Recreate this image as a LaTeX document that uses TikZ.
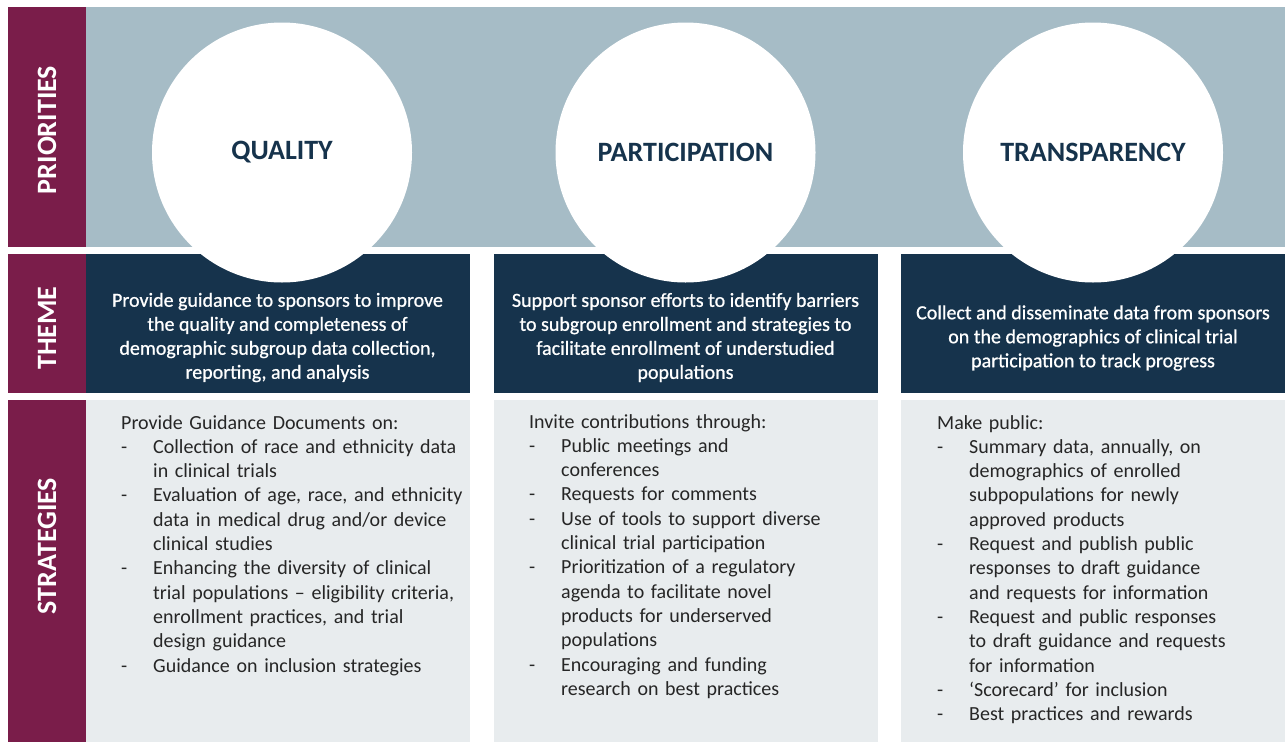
\documentclass[tikz,border=0pt]{standalone}
\usepackage{fontspec}
\setmainfont{Carlito}
\newfontfamily\semibold[FakeBold=0.8]{Carlito}
\definecolor{plum}{HTML}{7A1D4A}
\definecolor{steel}{HTML}{A6BCC6}
\definecolor{navy}{HTML}{16334C}
\definecolor{pale}{HTML}{E8ECEE}
\definecolor{ink}{HTML}{262626}
\newcommand{\dashitem}[1]{\par\hangindent=32pt\hangafter=1\noindent\makebox[32pt][l]{-}#1\par}
\begin{document}
\begin{tikzpicture}[x=1pt,y=-1pt,
  panel/.style={rectangle, draw=none, inner sep=0pt, outer sep=0pt, anchor=north west},
  sidebar/.style={panel, fill=plum, minimum width=78pt},
  prioband/.style={panel, fill=steel},
  themebox/.style={panel, fill=navy, minimum width=383.5pt, minimum height=139pt},
  stratbox/.style={panel, fill=pale, minimum width=383.5pt, minimum height=342pt},
  sidelabel/.style={rotate=90, text=white, font=\fontsize{28}{30}\selectfont\bfseries, inner sep=0pt},
  priocircle/.style={circle, fill=white, minimum size=260pt, inner sep=0pt, text=navy, font=\fontsize{28}{30}\selectfont\bfseries},
  themetext/.style={align=center, text=white, font=\semibold\fontsize{20}{24}\selectfont, inner sep=0pt},
  strattext/.style={anchor=base west, text width=345pt, align=left, text=ink, font=\fontsize{20}{24.3}\selectfont, inner sep=0pt}
]
\path[use as bounding box, fill=white] (0,0) rectangle (1285,742);

% left sidebar
\node[sidebar, minimum height=240pt] (sp) at (8,7) {};
\node[sidebar, minimum height=139pt] (st) at (8,254) {};
\node[sidebar, minimum height=342pt] (ss) at (8,400) {};

% priorities band
\node[prioband, minimum width=1199pt, minimum height=240pt] (pb) at (86,7) {};

% theme boxes
\node[themebox] (t1) at (86,254) {};
\node[themebox] (t2) at (494,254) {};
\node[themebox, minimum width=384pt] (t3) at (901,254) {};

% strategy boxes
\node[stratbox] (s1) at (86,400) {};
\node[stratbox] (s2) at (494,400) {};
\node[stratbox, minimum width=384pt] (s3) at (901,400) {};

% side labels
\node[sidelabel] (lp) at (47,130) {PRIORITIES};
\node[sidelabel] (lt) at (47,328) {THEME};
\node[sidelabel] (ls) at (47,546) {STRATEGIES};

% circles
\node[priocircle] (cq) at (282,152.5) {QUALITY};
\node[priocircle] (cp) at (685.5,152.5) {PARTICIPATION};
\node[priocircle] (ct) at (1093,152.5) {TRANSPARENCY};

% theme texts
\node[themetext] (tt1) at (277.5,337.5) {Provide guidance to sponsors to improve\\the quality and completeness of\\demographic subgroup data collection,\\reporting, and analysis};
\node[themetext] (tt2) at (685.5,337.5) {Support sponsor efforts to identify barriers\\to subgroup enrollment and strategies to\\facilitate enrollment of understudied\\populations};
\node[themetext] (tt3) at (1093,338) {Collect and disseminate data from sponsors\\on the demographics of clinical trial\\participation to track progress};

% strategy texts
\node[strattext] (sx1) at (121,429) {Provide Guidance Documents on:%
\dashitem{Collection of race and ethnicity data\newline in clinical trials}%
\dashitem{Evaluation of age, race, and ethnicity\newline data in medical drug and/or device\newline clinical studies}%
\dashitem{Enhancing the diversity of clinical\newline trial populations – eligibility criteria,\newline enrollment practices, and trial\newline design guidance}%
\dashitem{Guidance on inclusion strategies}};

\node[strattext] (sx2) at (529,428) {Invite contributions through:%
\dashitem{Public meetings and\newline conferences}%
\dashitem{Requests for comments}%
\dashitem{Use of tools to support diverse\newline clinical trial participation}%
\dashitem{Prioritization of a regulatory\newline agenda to facilitate novel\newline products for underserved\newline populations}%
\dashitem{Encouraging and funding\newline research on best practices}};

\node[strattext] (sx3) at (937,429) {Make public:%
\dashitem{Summary data, annually, on\newline demographics of enrolled\newline subpopulations for newly\newline approved products}%
\dashitem{Request and publish public\newline responses to draft guidance\newline and requests for information}%
\dashitem{Request and public responses\newline to draft guidance and requests\newline for information}%
\dashitem{‘Scorecard’ for inclusion}%
\dashitem{Best practices and rewards}};
\end{tikzpicture}
\end{document}
